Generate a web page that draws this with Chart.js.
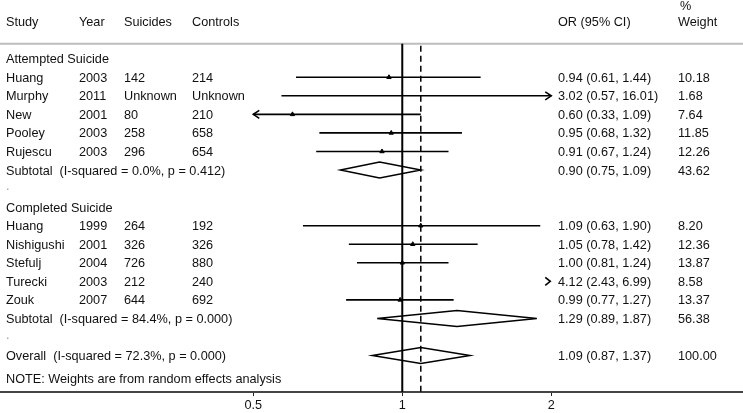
<!DOCTYPE html>
<html lang="en">
<head>
    <meta charset="UTF-8">
    <title>Forest plot</title>
    <script src="https://cdn.jsdelivr.net/npm/chart.js"></script>
    <style>
        body { margin: 0; background: #fff; }
        canvas { display: block; }
    </style>
</head>
<body>
    <canvas id="forest" width="743" height="413"></canvas>

    <script>
        // study rows
        const studies = ["Huang", "Murphy", "New", "Pooley", "Rujescu", "Huang", "Nishigushi", "Stefulj", "Turecki", "Zouk"];
        const years = [2003, 2011, 2001, 2003, 2003, 1999, 2001, 2004, 2003, 2007];
        const suicides = ["142", "Unknown", "80", "258", "296", "264", "326", "726", "212", "644"];
        const controls = ["214", "Unknown", "210", "658", "654", "192", "326", "880", "240", "692"];
        const oddsRatio = [0.94, 3.02, 0.60, 0.95, 0.91, 1.09, 1.05, 1.00, 4.12, 0.99];
        const ciLow = [0.61, 0.57, 0.33, 0.68, 0.67, 0.63, 0.78, 0.81, 2.43, 0.77];
        const ciHigh = [1.44, 16.01, 1.09, 1.32, 1.24, 1.90, 1.42, 1.24, 6.99, 1.27];
        const weights = [10.18, 1.68, 7.64, 11.85, 12.26, 8.20, 12.36, 13.87, 8.58, 13.37];
        const studyRows = [1, 2, 3, 4, 5, 9, 10, 11, 12, 13];

        // subtotals and overall
        const pooledLabels = ["Subtotal  (I-squared = 0.0%, p = 0.412)", "Subtotal  (I-squared = 84.4%, p = 0.000)", "Overall  (I-squared = 72.3%, p = 0.000)"];
        const pooledOr = [0.90, 1.29, 1.09];
        const pooledLow = [0.75, 0.89, 0.87];
        const pooledHigh = [1.09, 1.87, 1.37];
        const pooledWeights = [43.62, 56.38, 100.00];
        const pooledRows = [6, 14, 16];

        const groups = ["Attempted Suicide", "Completed Suicide"];
        const groupRows = [0, 8];
        const blankRows = [7, 15];
        const noteText = "NOTE: Weights are from random effects analysis";
        const noteRow = 17.25;

        const xTicks = [0.5, 1, 2];
        const clipMin = 0.5, clipMax = 2;
        const overallOr = 1.09;

        const fontStr = "12.7px 'Liberation Sans', Arial, sans-serif";
        const textNudge = 1;

        const forestPlugin = {
            id: "forest",
            beforeDatasetsDraw(chart) {
                const ctx = chart.ctx;
                const x = chart.scales.x, y = chart.scales.y;
                const area = chart.chartArea;
                const topY = y.getPixelForValue(-0.81);

                ctx.save();
                // header rule
                ctx.strokeStyle = "#bdbdbd";
                ctx.lineWidth = 2;
                ctx.beginPath();
                ctx.moveTo(0, topY);
                ctx.lineTo(chart.width, topY);
                ctx.stroke();

                // null line
                ctx.strokeStyle = "#000";
                ctx.lineWidth = 2;
                ctx.beginPath();
                ctx.moveTo(x.getPixelForValue(1), topY);
                ctx.lineTo(x.getPixelForValue(1), area.bottom);
                ctx.stroke();

                // overall effect line
                ctx.lineWidth = 1.5;
                ctx.setLineDash([6, 4]);
                ctx.beginPath();
                ctx.moveTo(x.getPixelForValue(overallOr), topY + 2);
                ctx.lineTo(x.getPixelForValue(overallOr), area.bottom);
                ctx.stroke();
                ctx.setLineDash([]);

                // confidence intervals
                ctx.lineWidth = 1.6;
                studies.forEach((s, i) => {
                    const py = y.getPixelForValue(studyRows[i]);
                    const lo = Math.max(ciLow[i], clipMin);
                    const hi = Math.min(ciHigh[i], clipMax);
                    if (lo >= clipMax) {
                        // whole interval off to the right
                        const px = x.getPixelForValue(clipMax);
                        ctx.beginPath();
                        ctx.moveTo(px - 6, py - 4);
                        ctx.lineTo(px - 1, py);
                        ctx.lineTo(px - 6, py + 4);
                        ctx.stroke();
                        return;
                    }
                    const x1 = x.getPixelForValue(lo), x2 = x.getPixelForValue(hi);
                    ctx.beginPath();
                    ctx.moveTo(x1, py);
                    ctx.lineTo(x2, py);
                    ctx.stroke();
                    if (ciHigh[i] > clipMax) {
                        ctx.beginPath();
                        ctx.moveTo(x2 - 6, py - 4);
                        ctx.lineTo(x2, py);
                        ctx.lineTo(x2 - 6, py + 4);
                        ctx.stroke();
                    }
                    if (ciLow[i] < clipMin) {
                        ctx.beginPath();
                        ctx.moveTo(x1 + 6, py - 4);
                        ctx.lineTo(x1, py);
                        ctx.lineTo(x1 + 6, py + 4);
                        ctx.stroke();
                    }
                });

                // pooled diamonds
                ctx.lineWidth = 1.5;
                pooledOr.forEach((v, i) => {
                    const py = y.getPixelForValue(pooledRows[i]);
                    const h = y.getPixelForValue(pooledRows[i] + 0.43) - py;
                    ctx.beginPath();
                    ctx.moveTo(x.getPixelForValue(pooledLow[i]), py);
                    ctx.lineTo(x.getPixelForValue(v), py - h);
                    ctx.lineTo(x.getPixelForValue(pooledHigh[i]), py);
                    ctx.lineTo(x.getPixelForValue(v), py + h);
                    ctx.closePath();
                    ctx.stroke();
                });
                ctx.restore();
            },
            afterDraw(chart) {
                const ctx = chart.ctx;
                const y = chart.scales.y;
                const rowY = r => y.getPixelForValue(r) + textNudge;
                ctx.save();
                ctx.font = fontStr;
                ctx.fillStyle = "#111";
                ctx.textBaseline = "middle";
                ctx.textAlign = "left";

                const hy = rowY(-2);
                ctx.fillText("Study", 6, hy);
                ctx.fillText("Year", 79, hy);
                ctx.fillText("Suicides", 124, hy);
                ctx.fillText("Controls", 192, hy);
                ctx.fillText("OR (95% CI)", 558, hy);
                ctx.fillText("Weight", 678, hy);
                ctx.fillText("%", 680, rowY(-2.85));

                groups.forEach((g, i) => ctx.fillText(g, 6, rowY(groupRows[i])));

                studies.forEach((s, i) => {
                    const py = rowY(studyRows[i]);
                    ctx.fillText(s, 6, py);
                    ctx.fillText(String(years[i]), 79, py);
                    ctx.fillText(suicides[i], 124, py);
                    ctx.fillText(controls[i], 192, py);
                    ctx.fillText(oddsRatio[i].toFixed(2) + " (" + ciLow[i].toFixed(2) + ", " + ciHigh[i].toFixed(2) + ")", 558, py);
                    ctx.fillText(weights[i].toFixed(2), 678, py);
                });

                pooledLabels.forEach((lab, i) => {
                    const py = rowY(pooledRows[i]);
                    ctx.fillText(lab, 6, py);
                    ctx.fillText(pooledOr[i].toFixed(2) + " (" + pooledLow[i].toFixed(2) + ", " + pooledHigh[i].toFixed(2) + ")", 558, py);
                    ctx.fillText(pooledWeights[i].toFixed(2), 678, py);
                });

                ctx.fillStyle = "#999";
                blankRows.forEach(r => ctx.fillText(".", 6, rowY(r) - 3));

                ctx.fillStyle = "#111";
                ctx.fillText(noteText, 6, rowY(noteRow));
                ctx.restore();
            }
        };

        const points = [];
        oddsRatio.forEach((v, i) => {
            if (v >= clipMin && v <= clipMax) points.push({ x: v, y: studyRows[i] });
        });

        new Chart(document.getElementById("forest"), {
            type: "scatter",
            data: {
                datasets: [{
                    data: points,
                    backgroundColor: "#000",
                    borderColor: "#000",
                    pointStyle: "triangle",
                    pointRadius: 2.5,
                    borderWidth: 1
                }]
            },
            options: {
                responsive: false,
                animation: false,
                devicePixelRatio: 1,
                layout: { padding: 0, autoPadding: false },
                plugins: { legend: { display: false }, tooltip: { enabled: false } },
                scales: {
                    x: {
                        type: "logarithmic",
                        min: 0.1539,
                        max: 4.88,
                        afterBuildTicks: axis => { axis.ticks = xTicks.map(v => ({ value: v })); },
                        afterFit: axis => { axis.height = 21; },
                        ticks: {
                            color: "#111",
                            padding: 2,
                            font: { family: "'Liberation Sans', Arial, sans-serif", size: 12.7 },
                            callback: v => String(v)
                        },
                        grid: { display: true, drawOnChartArea: false, drawTicks: true, tickLength: 4, color: "#222", tickWidth: 1 },
                        border: { display: true, color: "#444", width: 2 }
                    },
                    y: {
                        type: "linear",
                        display: false,
                        reverse: true,
                        min: -3.165,
                        max: 17.965
                    }
                }
            },
            plugins: [forestPlugin]
        });
    </script>
</body>
</html>
